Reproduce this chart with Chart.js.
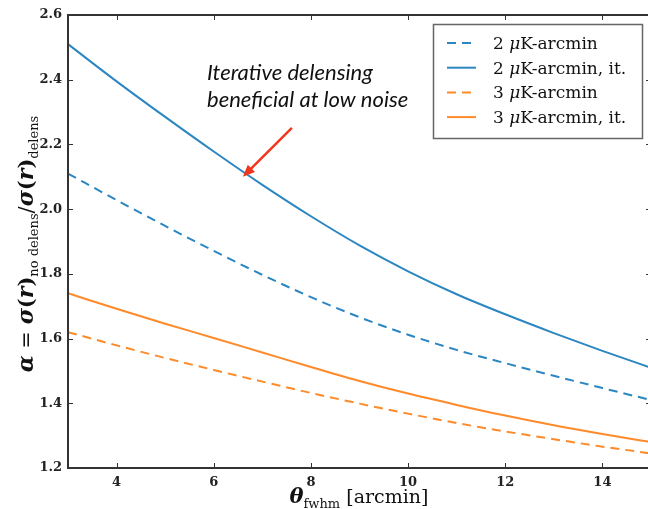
<!DOCTYPE html>
<html>
<head>
<meta charset="utf-8">
<script src="https://cdn.jsdelivr.net/npm/chart.js@4.4.0/dist/chart.umd.min.js"></script>
<style>
  html, body { margin: 0; padding: 0; background: #fff; overflow: hidden; }
  #wrap { width: 652px; height: 509px; }
</style>
</head>
<body>
<div id="wrap"><canvas id="myChart" width="652" height="509"></canvas></div>
<script>
// beam size in arcmin
const thetaFwhm = [3, 4, 5, 6, 7, 8, 9, 10, 11, 12, 13, 14, 15];

// alpha = sigma(r) no delens / sigma(r) delens
const noise2 = [2.11, 2.028, 1.948, 1.871, 1.797, 1.728, 1.666, 1.612, 1.565, 1.524, 1.485, 1.447, 1.41];
const noise2It = [2.51, 2.395, 2.285, 2.178, 2.075, 1.978, 1.888, 1.808, 1.737, 1.675, 1.617, 1.562, 1.51];
const noise3 = [1.62, 1.579, 1.54, 1.503, 1.467, 1.432, 1.399, 1.368, 1.339, 1.313, 1.289, 1.266, 1.245];
const noise3It = [1.74, 1.692, 1.646, 1.602, 1.557, 1.512, 1.469, 1.43, 1.395, 1.362, 1.332, 1.305, 1.28];

const xTicks = [4, 6, 8, 10, 12, 14];
const yTicks = [1.2, 1.4, 1.6, 1.8, 2.0, 2.2, 2.4, 2.6];

const seriesNames = ["2 μK-arcmin", "2 μK-arcmin, it.", "3 μK-arcmin", "3 μK-arcmin, it."];

// where the arrow points on the iterative 2 uK curve
const arrowTip = { x: 6.6, y: 2.10 };

const BLUE = "#2b86c2";
const ORANGE = "#ff8a2a";
const SERIF = '"DejaVu Serif", serif';

function toPoints(ys) {
  return thetaFwhm.map((t, i) => ({ x: t, y: ys[i] }));
}

function makeSet(label, ys, color, dashed) {
  return {
    label: label,
    data: toPoints(ys),
    borderColor: color,
    borderWidth: 2,
    borderDash: dashed ? [9, 6] : [],
    pointRadius: 0,
    fill: false,
    cubicInterpolationMode: "monotone",
  };
}

// draws a list of text pieces side by side (for subscripts / italic mu)
function drawRuns(ctx, runs, x, y, align) {
  let total = 0;
  runs.forEach((r) => {
    ctx.font = r.font;
    r.w = ctx.measureText(r.t).width;
    total += r.w;
  });
  let cx = align === "center" ? x - total / 2 : x;
  runs.forEach((r) => {
    ctx.font = r.font;
    ctx.fillText(r.t, cx, y + (r.dy || 0));
    cx += r.w;
  });
}

const framePlugin = {
  id: "frame",
  afterDraw(chart) {
    const ctx = chart.ctx;
    const a = chart.chartArea;
    const xs = chart.scales.x;
    const ys = chart.scales.y;
    ctx.save();

    // spines
    ctx.strokeStyle = "#333";
    ctx.lineWidth = 2;
    ctx.setLineDash([]);
    ctx.strokeRect(a.left, a.top, a.right - a.left, a.bottom - a.top);

    // inward ticks on all four sides
    ctx.lineWidth = 1;
    ctx.beginPath();
    xTicks.forEach((v) => {
      const px = Math.round(xs.getPixelForValue(v)) + 0.5;
      ctx.moveTo(px, a.bottom);
      ctx.lineTo(px, a.bottom - 5);
      ctx.moveTo(px, a.top);
      ctx.lineTo(px, a.top + 5);
    });
    yTicks.forEach((v) => {
      const py = Math.round(ys.getPixelForValue(v)) + 0.5;
      ctx.moveTo(a.left, py);
      ctx.lineTo(a.left + 5, py);
      ctx.moveTo(a.right, py);
      ctx.lineTo(a.right - 5, py);
    });
    ctx.stroke();

    // axis titles
    ctx.fillStyle = "#111";
    ctx.textBaseline = "alphabetic";
    drawRuns(ctx, [
      { t: "θ", font: "bold italic 21px " + SERIF },
      { t: "fwhm", font: "13px " + SERIF, dy: 5 },
      { t: " [arcmin]", font: "19px " + SERIF },
    ], 359, 503, "center");

    ctx.save();
    ctx.translate(33, 244);
    ctx.rotate(-Math.PI / 2);
    drawRuns(ctx, [
      { t: "α", font: "bold italic 22px " + SERIF },
      { t: " = ", font: "21px " + SERIF },
      { t: "σ", font: "bold italic 22px " + SERIF },
      { t: "(", font: "bold 21px " + SERIF },
      { t: "r", font: "bold italic 22px " + SERIF },
      { t: ")", font: "bold 21px " + SERIF },
      { t: "no delens", font: "13px " + SERIF, dy: 5 },
      { t: "/", font: "21px " + SERIF },
      { t: "σ", font: "bold italic 22px " + SERIF },
      { t: "(", font: "bold 21px " + SERIF },
      { t: "r", font: "bold italic 22px " + SERIF },
      { t: ")", font: "bold 21px " + SERIF },
      { t: "delens", font: "13px " + SERIF, dy: 5 },
    ], 0, 0, "center");
    ctx.restore();

    // legend
    const lx = 433, lyTop = 24, lw = 209, lh = 114;
    ctx.fillStyle = "#fff";
    ctx.fillRect(lx, lyTop, lw, lh);
    ctx.strokeStyle = "#666";
    ctx.lineWidth = 1.5;
    ctx.strokeRect(lx + 0.5, lyTop + 0.5, lw, lh);
    chart.data.datasets.forEach((ds, i) => {
      const ry = 43 + i * 24.7;
      ctx.strokeStyle = ds.borderColor;
      ctx.lineWidth = 2;
      ctx.setLineDash(ds.borderDash);
      ctx.beginPath();
      ctx.moveTo(447, ry);
      ctx.lineTo(476, ry);
      ctx.stroke();
      ctx.setLineDash([]);
      const parts = ds.label.split("μ");
      ctx.fillStyle = "#111";
      drawRuns(ctx, [
        { t: parts[0], font: "17px " + SERIF },
        { t: "μ", font: "italic 17px " + SERIF },
        { t: parts[1], font: "17px " + SERIF },
      ], 493, ry + 6, "left");
    });

    // annotation text and arrow
    ctx.fillStyle = "#111";
    ctx.font = "italic 22px Lato, sans-serif";
    ctx.fillText("Iterative delensing", 207, 80);
    ctx.fillText("beneficial at low noise", 207, 107);

    const tx = xs.getPixelForValue(arrowTip.x);
    const ty = ys.getPixelForValue(arrowTip.y);
    const sx = tx + 49, sy = ty - 49;
    const ang = Math.atan2(ty - sy, tx - sx);
    ctx.strokeStyle = "#f2361c";
    ctx.fillStyle = "#f2361c";
    ctx.lineWidth = 2.5;
    ctx.beginPath();
    ctx.moveTo(sx, sy);
    ctx.lineTo(tx - 8 * Math.cos(ang), ty - 8 * Math.sin(ang));
    ctx.stroke();
    ctx.beginPath();
    ctx.moveTo(tx, ty);
    ctx.lineTo(tx - 13 * Math.cos(ang - 0.4), ty - 13 * Math.sin(ang - 0.4));
    ctx.lineTo(tx - 13 * Math.cos(ang + 0.4), ty - 13 * Math.sin(ang + 0.4));
    ctx.closePath();
    ctx.fill();

    ctx.restore();
  },
};

const ctx = document.getElementById("myChart");

new Chart(ctx, {
  type: "line",
  data: {
    datasets: [
      makeSet(seriesNames[0], noise2, BLUE, true),
      makeSet(seriesNames[1], noise2It, BLUE, false),
      makeSet(seriesNames[2], noise3, ORANGE, true),
      makeSet(seriesNames[3], noise3It, ORANGE, false),
    ],
  },
  options: {
    responsive: false,
    animation: false,
    devicePixelRatio: 1,
    layout: { padding: { top: 15, right: 1, left: 0, bottom: 0 } },
    plugins: {
      legend: { display: false },
      tooltip: { enabled: false },
    },
    scales: {
      x: {
        type: "linear",
        min: 3,
        max: 15,
        grid: { display: false, drawTicks: false },
        border: { display: false },
        afterBuildTicks(scale) {
          scale.ticks = xTicks.map((v) => ({ value: v }));
        },
        afterFit(scale) {
          scale.height = 41;
        },
        ticks: {
          padding: 7,
          color: "#222",
          font: { family: SERIF, size: 13, weight: "bold" },
          callback: (v) => String(v),
        },
      },
      y: {
        min: 1.2,
        max: 2.6,
        grid: { display: false, drawTicks: false },
        border: { display: false },
        afterBuildTicks(scale) {
          scale.ticks = yTicks.map((v) => ({ value: v }));
        },
        afterFit(scale) {
          scale.width = 68;
        },
        ticks: {
          padding: 6,
          color: "#222",
          font: { family: SERIF, size: 13, weight: "bold" },
          callback: (v) => v.toFixed(1),
        },
      },
    },
  },
  plugins: [framePlugin],
});
</script>
</body>
</html>
